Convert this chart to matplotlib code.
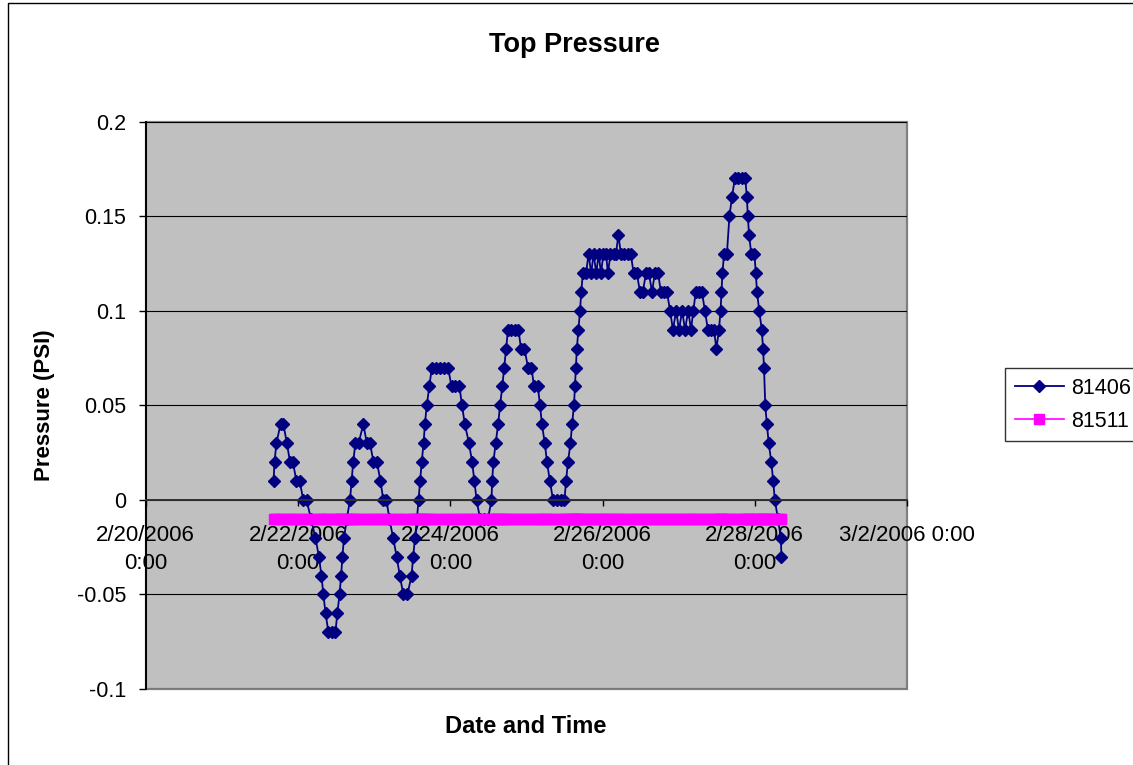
import matplotlib
matplotlib.use('Agg')
import matplotlib.pyplot as plt
from matplotlib.patches import Rectangle
from datetime import datetime, timedelta

plt.rcParams['font.family'] = ['Liberation Sans', 'DejaVu Sans']

# reading times, hours after 2/20/2006 0:00
hours = [
    40.3, 40.6, 41.2, 42.5, 43.4, 44.5, 45.5, 46.4, 47.5, 48.5,
    49.7, 50.7, 52.1, 53.5, 54.6, 55.4, 56.0, 56.7, 57.6, 58.7,
    59.8, 60.4, 61.1, 61.6, 62.0, 62.5, 63.4, 64.4, 64.9, 65.4,
    66.1, 67.1, 68.6, 69.7, 70.7, 71.8, 72.9, 74.0, 74.9, 75.9,
    76.8, 78.0, 79.1, 80.1, 81.2, 82.5, 83.8, 84.3, 84.9, 85.5,
    86.0, 86.5, 87.0, 87.6, 88.0, 88.6, 89.4, 90.2, 91.5, 92.8,
    94.0, 95.3, 96.4, 97.6, 98.9, 99.7, 100.6, 101.9, 102.9, 103.6,
    104.3, 105.4, 106.6, 107.9, 109.0, 109.2, 109.6, 110.3, 111.1, 111.7,
    112.4, 113.0, 113.6, 114.2, 115.3, 116.4, 117.5, 118.3, 119.4, 120.5,
    121.6, 122.4, 123.6, 124.3, 124.9, 125.8, 126.5, 127.4, 128.4, 129.6,
    130.9, 132.0, 132.5, 133.1, 133.9, 134.4, 135.0, 135.3, 135.6, 135.9,
    136.4, 136.9, 137.3, 137.8, 138.8, 139.6, 140.4, 141.2, 142.0, 142.8,
    143.5, 144.3, 145.1, 145.7, 146.5, 147.5, 148.2, 149.0, 149.8, 150.9,
    152.0, 152.9, 153.8, 154.8, 155.8, 156.7, 157.7, 158.6, 159.6, 160.5,
    161.5, 162.4, 163.4, 164.3, 165.3, 166.2, 167.2, 168.1, 169.1, 170.0,
    171.0, 171.9, 172.6, 173.4, 174.4, 175.3, 176.3, 177.2, 178.2, 179.1,
    179.9, 180.7, 181.2, 181.5, 181.8, 182.3, 183.2, 184.0, 184.8, 185.7,
    186.8, 187.9, 189.0, 189.5, 189.8, 190.2, 190.9, 191.9, 192.3, 192.7,
    193.4, 194.2, 194.6, 194.9, 195.3, 195.8, 196.4, 197.2, 197.8, 198.3,
    199.3, 200.2, 200.4,
]

p81406 = [
    0.01, 0.02, 0.03, 0.04, 0.04, 0.03, 0.02, 0.02, 0.01, 0.01,
    0.00, 0.00, -0.01, -0.02, -0.03, -0.04, -0.05, -0.06, -0.07, -0.07,
    -0.07, -0.06, -0.05, -0.04, -0.03, -0.02, -0.01, 0.00, 0.01, 0.02,
    0.03, 0.03, 0.04, 0.03, 0.03, 0.02, 0.02, 0.01, 0.00, 0.00,
    -0.01, -0.02, -0.03, -0.04, -0.05, -0.05, -0.04, -0.03, -0.02, -0.01,
    0.00, 0.01, 0.02, 0.03, 0.04, 0.05, 0.06, 0.07, 0.07, 0.07,
    0.07, 0.07, 0.06, 0.06, 0.06, 0.05, 0.04, 0.03, 0.02, 0.01,
    0.00, -0.01, -0.01, -0.01, 0.00, 0.01, 0.02, 0.03, 0.04, 0.05,
    0.06, 0.07, 0.08, 0.09, 0.09, 0.09, 0.09, 0.08, 0.08, 0.07,
    0.07, 0.06, 0.06, 0.05, 0.04, 0.03, 0.02, 0.01, 0.00, 0.00,
    0.00, 0.00, 0.01, 0.02, 0.03, 0.04, 0.05, 0.06, 0.07, 0.08,
    0.09, 0.10, 0.11, 0.12, 0.12, 0.13, 0.12, 0.13, 0.12, 0.13,
    0.12, 0.13, 0.13, 0.12, 0.13, 0.13, 0.13, 0.14, 0.13, 0.13,
    0.13, 0.13, 0.12, 0.12, 0.11, 0.11, 0.12, 0.12, 0.11, 0.12,
    0.12, 0.11, 0.11, 0.11, 0.10, 0.09, 0.10, 0.09, 0.10, 0.09,
    0.10, 0.09, 0.10, 0.11, 0.11, 0.11, 0.10, 0.09, 0.09, 0.09,
    0.08, 0.09, 0.10, 0.11, 0.12, 0.13, 0.13, 0.15, 0.16, 0.17,
    0.17, 0.17, 0.17, 0.16, 0.15, 0.14, 0.13, 0.13, 0.12, 0.11,
    0.10, 0.09, 0.08, 0.07, 0.05, 0.04, 0.03, 0.02, 0.01, 0.00,
    -0.01, -0.02, -0.03,
]

# second sensor reads flat at -0.01 for the whole run
p81511 = [-0.01] * len(hours)

tick_days = ['2006-02-20', '2006-02-22', '2006-02-24', '2006-02-26', '2006-02-28', '2006-03-02']
tick_labels = ['2/20/2006\n0:00', '2/22/2006\n0:00', '2/24/2006\n0:00',
               '2/26/2006\n0:00', '2/28/2006\n0:00', '3/2/2006 0:00']
y_ticks = [-0.1, -0.05, 0, 0.05, 0.1, 0.15, 0.2]
y_labels = ['-0.1', '-0.05', '0', '0.05', '0.1', '0.15', '0.2']

t0 = datetime(2006, 2, 20)
times = [t0 + timedelta(hours=h) for h in hours]
tick_pos = [datetime.strptime(d, '%Y-%m-%d') for d in tick_days]

fig = plt.figure(figsize=(11.33, 7.65), dpi=100)
ax = fig.add_axes([0.1286, 0.0993, 0.672, 0.7416])
ax.set_facecolor('#C0C0C0')

ax.plot(times, p81406, color='#000080', marker='D', ms=5.8, lw=1.3,
        mec='#000080', mfc='#000080', label='81406')
ax.plot(times, p81511, color='#FF00FF', marker='s', ms=7.3, lw=1.2,
        mec='#FF00FF', mfc='#FF00FF', label='81511')

ax.set_xlim(tick_pos[0], tick_pos[-1])
ax.set_ylim(-0.1, 0.2)
ax.set_yticks(y_ticks)
ax.set_yticklabels(y_labels)
ax.set_xticks(tick_pos)
ax.set_xticklabels(tick_labels)

ax.yaxis.grid(True, color='black', lw=0.8)
ax.xaxis.grid(False)

for s in ['top', 'right']:
    ax.spines[s].set_visible(False)
ax.spines['bottom'].set_position(('data', 0))
ax.spines['bottom'].set_color('#303030')
ax.spines['bottom'].set_linewidth(1.4)
ax.spines['left'].set_color('black')
ax.spines['left'].set_linewidth(1.4)
ax.add_patch(Rectangle((0, 0), 1, 1, transform=ax.transAxes, fill=False,
                       edgecolor='#808080', lw=1.6, zorder=0.5, clip_on=False))

ax.tick_params(axis='x', direction='out', length=4.5, width=1, pad=13.5, labelsize=16)
ax.tick_params(axis='y', direction='out', length=5, width=1, pad=9, labelsize=15.5)
for lbl in ax.get_xticklabels():
    lbl.set_linespacing(1.45)

fig.text(0.507, 0.941, 'Top Pressure', ha='center', va='center',
         fontsize=19.5, fontweight='bold')
fig.text(0.464, 0.0497, 'Date and Time', ha='center', va='center',
         fontsize=17, fontweight='bold')
fig.text(0.0397, 0.4706, 'Pressure (PSI)', ha='center', va='center',
         rotation=90, fontsize=16, fontweight='bold')

leg = fig.legend(loc='center left', bbox_to_anchor=(0.887, 0.471),
                 fontsize=15.5, frameon=True, fancybox=False, handlelength=2.3,
                 borderpad=0.45, labelspacing=0.55, handletextpad=0.3,
                 borderaxespad=0)
leg.get_frame().set_edgecolor('black')
leg.get_frame().set_linewidth(1.0)

# outer chart border
fig.add_artist(Rectangle((8 / 1133, -0.01), 1.0, 1.0 - 3 / 765 + 0.01,
                         transform=fig.transFigure, fill=False,
                         edgecolor='black', lw=1.0))

fig.savefig('out.png', dpi=100)
